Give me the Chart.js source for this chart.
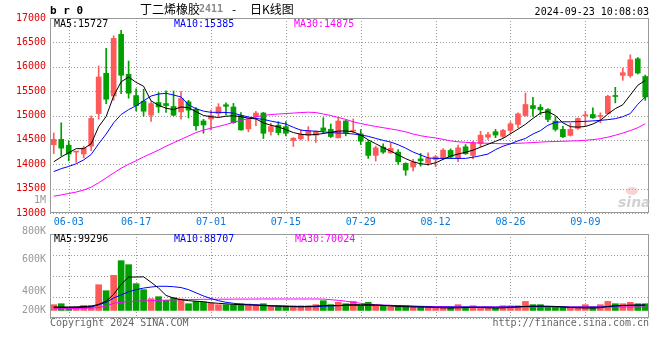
<!DOCTYPE html>
<html>
<head>
<meta charset="utf-8">
<script src="https://cdn.jsdelivr.net/npm/chart.js@4.4.1/dist/chart.umd.min.js"></script>
<style>
body { margin: 0; background: #fff; }
#wrap { position: relative; width: 660px; height: 360px; }
canvas { position: absolute; left: 0; }
#kChart { top: 0; }
#volChart { top: 224px; }
</style>
</head>
<body>
<div id="wrap">
  <canvas id="kChart" width="660" height="232"></canvas>
  <canvas id="volChart" width="660" height="136"></canvas>
</div>
<script>
// Dados (80 pregões)
const dates = ['05-30','05-31',
  '06-03','06-04','06-05','06-06','06-07','06-11','06-12','06-13','06-14','06-17','06-18','06-19','06-20','06-21','06-24','06-25','06-26','06-27','06-28',
  '07-01','07-02','07-03','07-04','07-05','07-08','07-09','07-10','07-11','07-12','07-15','07-16','07-17','07-18','07-19','07-22','07-23','07-24','07-25','07-26','07-29','07-30','07-31',
  '08-01','08-02','08-05','08-06','08-07','08-08','08-09','08-12','08-13','08-14','08-15','08-16','08-19','08-20','08-21','08-22','08-23','08-26','08-27','08-28','08-29','08-30',
  '09-02','09-03','09-04','09-05','09-06','09-09','09-10','09-11','09-12','09-13','09-18','09-19','09-20','09-23'];
const tickDates = ['06-03','06-17','07-01','07-15','07-29','08-12','08-26','09-09'];

const open = [14400,14510,14390,14250,14210,14370,15040,15866,15400,16664,15845,15409,15293,15006,15266,15245,15184,15075,15280,15130,
  14888,14929,15044,15221,15174,14997,14725,14976,15051,14670,14800,14772,14487,14521,14596,14596,14745,14718,14541,14888,
  14680,14623,14453,14181,14351,14235,14249,14017,13943,14110,14031,14099,14120,14283,14120,14358,14181,14426,14555,14667,
  14572,14694,14817,15000,15204,15170,15123,14885,14715,14592,14735,14994,15021,14980,15041,15400,15823,15816,16163,15800];
const high = [14640,14850,14480,14265,14370,14990,16015,16377,16636,16746,16118,15545,15538,15286,15470,15504,15504,15491,15310,15160,
  14922,15112,15242,15262,15248,15058,14942,15085,15065,14840,14874,14874,14548,14704,14772,14684,14956,14827,14956,14908,
  14930,14711,14487,14371,14419,14439,14303,14031,14099,14220,14235,14181,14324,14317,14392,14405,14473,14677,14657,14715,
  14715,14871,15055,15463,15374,15225,15143,14973,14776,14837,14953,15089,15157,15055,15415,15578,15973,16245,16190,15830];
const low = [14220,14170,14070,14040,14130,14280,14925,15245,15313,15450,15354,15095,14986,14877,15061,15061,14993,14925,14950,14700,
  14636,14704,14963,15010,14840,14700,14664,14793,14527,14596,14602,14582,14364,14500,14480,14446,14636,14548,14541,14582,
  14640,14405,14120,14065,14222,14222,13997,13773,13861,13960,13977,13950,14099,14120,14051,14201,14113,14358,14507,14545,
  14545,14626,14749,14987,14987,15021,14871,14681,14545,14579,14715,14783,14939,14851,15034,15259,15721,15782,15850,15310];
const close = [14510,14330,14210,14265,14330,14940,15790,15334,16582,15825,15457,15204,15088,15245,15177,15204,15006,15348,15110,14790,
  14806,14997,15174,15187,14854,14704,14922,15051,14636,14772,14650,14636,14534,14616,14684,14670,14691,14568,14888,14640,
  14700,14473,14181,14337,14249,14324,14051,13881,14045,14070,14120,14154,14290,14147,14337,14215,14439,14596,14609,14599,
  14694,14830,15034,15225,15143,15116,14919,14715,14565,14715,14939,15000,14953,15000,15395,15390,15878,16143,15871,15380];

const ma5 = [14050,14150,14236,14320,14320,14420,14770,14980,15400,15690,15790,15680,15600,15300,15210,15150,15120,15175,15160,15080,
  15000,14975,14960,14985,14995,14975,14945,14930,14850,14800,14765,14710,14650,14615,14602,14610,14630,14655,14680,14684,
  14665,14600,14500,14420,14340,14270,14190,14115,14050,14010,13995,14030,14100,14167,14210,14245,14290,14350,14410,14470,
  14530,14625,14720,14820,14940,15050,15080,15000,14850,14770,14762,14775,14825,14900,15030,15140,15220,15420,15620,15720];
const ma10 = [13850,13910,13955,14010,14090,14200,14420,14620,14850,15020,15120,15200,15300,15400,15440,15455,15420,15380,15220,15140,
  15090,15065,15065,15062,15050,15005,14970,14940,14920,14885,14855,14825,14758,14700,14686,14678,14665,14650,14640,14636,
  14620,14600,14573,14530,14490,14455,14400,14330,14250,14190,14130,14120,14120,14120,14120,14120,14145,14175,14210,14300,
  14370,14420,14480,14530,14620,14690,14800,14860,14870,14871,14875,14880,14890,14900,14915,14935,14975,15040,15230,15380];
const ma30 = [13345,13370,13400,13430,13470,13530,13620,13720,13820,13920,14000,14070,14150,14220,14290,14370,14440,14510,14580,14650,
  14700,14740,14775,14815,14860,14900,14940,14975,15000,15020,15030,15040,15050,15060,15068,15060,15030,15000,14960,14920,
  14870,14835,14805,14775,14750,14725,14698,14665,14620,14585,14560,14540,14510,14480,14460,14450,14440,14435,14430,14425,
  14420,14425,14430,14437,14445,14455,14462,14467,14472,14477,14482,14492,14505,14525,14555,14595,14640,14690,14750,14830];

// volume em milhares (escala do painel inferior)
const volume = [127,136,95,101,120,120,317,260,406,546,508,327,270,184,203,168,193,181,136,158,
  152,143,127,127,127,136,133,127,136,117,117,117,117,117,117,127,165,127,149,136,
  158,120,149,120,120,110,120,117,105,105,105,105,105,105,127,105,117,105,105,95,
  117,117,117,158,127,127,105,105,105,105,105,127,105,127,158,136,136,149,136,136];
const volMa5 = [105,105,105,107,109,112,130,160,225,320,390,390,392,340,285,215,190,175,165,160,
  155,145,140,135,130,127,125,122,118,115,113,110,108,107,110,113,118,120,117,125,
  127,127,127,125,120,115,110,108,105,105,103,100,97,95,97,100,100,100,97,95,
  97,100,105,110,112,113,112,110,105,100,97,95,95,98,110,117,120,122,123,123];
const volMa10 = [100,100,100,100,100,105,125,150,190,220,250,270,285,295,302,302,298,290,270,240,
  210,185,165,150,140,132,128,126,122,118,115,112,110,108,107,108,112,115,118,120,
  120,120,120,120,120,120,117,114,111,109,107,105,105,105,105,105,105,105,105,104,
  105,106,108,110,110,110,110,108,106,104,104,104,104,105,108,113,118,120,122,123];
const volMa30 = [88,89,90,91,92,94,100,115,140,150,155,160,163,165,167,170,172,174,176,177,
  178,178,179,179,180,180,180,181,181,181,181,181,181,181,181,181,180,175,168,160,
  150,140,132,127,123,120,118,116,114,112,110,109,108,107,106,105,105,105,105,105,
  105,105,105,105,105,105,105,105,105,105,105,105,105,105,105,105,105,105,105,105];
const volBase = 72;
const volTickLabels = ['800K', '600K', '400K', '200K'];

const RED = '#ff5a5a';
const GREEN = '#00a000';
const GRID = '#999';
const MONO = '"DejaVu Sans Mono", monospace';
const cores = close.map((c, i) => c >= open[i] ? RED : GREEN);

function linha(data, color) {
  return { type: 'line', data: data, borderColor: color, borderWidth: 1, pointRadius: 0, tension: 0, order: 0 };
}

// linhas de grade pontilhadas, nas marcas das escalas
const grade = {
  id: 'grade',
  beforeDatasetsDraw(chart) {
    const a = chart.chartArea;
    const c = chart.ctx;
    const xs = chart.scales.x;
    const ys = chart.scales.y;
    c.save();
    c.strokeStyle = GRID;
    c.lineWidth = 1;
    c.setLineDash([1, 2]);
    c.beginPath();
    ys.ticks.forEach(t => {
      const y = Math.round(ys.getPixelForValue(t.value)) + 0.5;
      c.moveTo(a.left, y);
      c.lineTo(a.right, y);
    });
    dates.forEach((d, i) => {
      if (!tickDates.includes(d)) return;
      const x = Math.round(xs.getPixelForValue(i)) + 0.5;
      c.moveTo(x, a.top);
      c.lineTo(x, a.bottom);
    });
    c.stroke();
    c.restore();
  }
};

// moldura cinza em volta da área do gráfico
const moldura = {
  id: 'moldura',
  afterDraw(chart) {
    const a = chart.chartArea;
    const c = chart.ctx;
    c.save();
    c.strokeStyle = '#999';
    c.lineWidth = 1;
    c.strokeRect(Math.round(a.left) + 0.5, Math.round(a.top) + 0.5, Math.round(a.right - a.left) - 1, Math.round(a.bottom - a.top) - 1);
    c.restore();
  }
};

const textosK = {
  id: 'textosK',
  afterDraw(chart) {
    const c = chart.ctx;
    c.save();
    c.textBaseline = 'middle';
    c.font = 'bold 11px ' + MONO;
    c.fillStyle = '#000';
    c.fillText('b r 0', 50, 11);
    c.font = '12px "Noto Sans CJK SC"';
    c.fillText('丁二烯橡胶', 140, 9);
    c.font = 'bold 10px ' + MONO;
    c.fillStyle = '#888';
    c.fillText('2411', 199, 9);
    c.fillStyle = '#000';
    c.font = '12px "Noto Sans CJK SC"';
    c.fillText('-', 232, 9);
    c.fillText('日K线图', 250, 9);
    c.font = '10px ' + MONO;
    c.textAlign = 'right';
    c.fillText('2024-09-23 10:08:03', 649, 12);
    c.fillStyle = '#999';
    c.fillText('1M', 46, 200);
    c.textAlign = 'left';
    c.fillStyle = '#000';
    c.fillText('MA5:15727', 54, 24);
    c.fillStyle = '#0000ff';
    c.fillText('MA10:15385', 174, 24);
    c.fillStyle = '#ff00ff';
    c.fillText('MA30:14875', 294, 24);
    // marca d'água
    c.font = 'italic bold 14px "DejaVu Sans"';
    c.fillStyle = 'rgba(190,190,190,0.7)';
    c.fillText('sina', 618, 203);
    c.fillStyle = 'rgba(240,170,170,0.5)';
    c.beginPath();
    c.ellipse(632, 191, 6, 4, 0, 0, Math.PI * 2);
    c.fill();
    c.restore();
  }
};

const textosVol = {
  id: 'textosVol',
  afterDraw(chart) {
    const c = chart.ctx;
    const labelY = [7, 35.5, 67, 86];
    c.save();
    c.textBaseline = 'middle';
    c.font = '10px ' + MONO;
    c.textAlign = 'right';
    c.fillStyle = '#999';
    volTickLabels.forEach((t, i) => c.fillText(t, 46, labelY[i]));
    c.fillStyle = '#666';
    c.fillText('http://finance.sina.com.cn', 649, 99);
    c.textAlign = 'left';
    c.fillText('Copyright 2024 SINA.COM', 50, 99);
    c.fillStyle = '#000';
    c.fillText('MA5:99296', 54, 15);
    c.fillStyle = '#0000ff';
    c.fillText('MA10:88707', 174, 15);
    c.fillStyle = '#ff00ff';
    c.fillText('MA30:70024', 295, 15);
    c.restore();
  }
};

// Gráfico de velas (K线)
const ctx = document.getElementById('kChart').getContext('2d');
const kChart = new Chart(ctx, {
  type: 'bar',
  data: {
    labels: dates,
    datasets: [
      linha(ma5, '#000000'),
      linha(ma10, '#0000ff'),
      linha(ma30, '#ff00ff'),
      {
        data: open.map((o, i) => [o, close[i]]),
        backgroundColor: cores,
        borderWidth: 0,
        barThickness: 5,
        minBarLength: 1,
        grouped: false,
        order: 1
      },
      {
        data: low.map((l, i) => [l, high[i]]),
        backgroundColor: cores,
        borderWidth: 0,
        barThickness: 1,
        grouped: false,
        order: 2
      }
    ]
  },
  options: {
    responsive: false,
    animation: false,
    layout: { padding: { top: 18, right: 11, left: 0, bottom: 0 } },
    plugins: { legend: { display: false }, tooltip: { enabled: false } },
    scales: {
      x: {
        offset: true,
        grid: { display: false, drawTicks: false },
        border: { display: false },
        ticks: {
          autoSkip: false,
          maxRotation: 0,
          padding: 3,
          color: '#0a78d6',
          font: { family: MONO, size: 10 },
          callback: (v, i) => tickDates.includes(dates[i]) ? dates[i] : ''
        },
        afterFit: s => { s.height = 19; }
      },
      y: {
        min: 13000,
        max: 17000,
        grid: { display: false, drawTicks: false },
        border: { display: false },
        ticks: {
          stepSize: 500,
          padding: 4,
          color: '#e00000',
          font: { family: MONO, size: 10 },
          callback: v => String(v)
        },
        afterFit: s => { s.width = 50; }
      }
    }
  },
  plugins: [grade, moldura, textosK]
});

// Gráfico de volume
const ctxVol = document.getElementById('volChart').getContext('2d');
const volChart = new Chart(ctxVol, {
  type: 'bar',
  data: {
    labels: dates,
    datasets: [
      linha(volMa5, '#000000'),
      linha(volMa10, '#0000ff'),
      linha(volMa30, '#ff00ff'),
      {
        data: volume,
        base: volBase,
        backgroundColor: cores,
        borderWidth: 0,
        barThickness: 6,
        order: 1
      }
    ]
  },
  options: {
    responsive: false,
    animation: false,
    layout: { padding: { top: 10, right: 11, left: 0, bottom: 42 } },
    plugins: { legend: { display: false }, tooltip: { enabled: false } },
    scales: {
      x: {
        offset: true,
        grid: { display: false, drawTicks: false },
        border: { display: false },
        ticks: { display: false },
        afterFit: s => { s.height = 0; }
      },
      y: {
        min: 0,
        max: 800,
        grid: { display: false, drawTicks: false },
        border: { display: false },
        ticks: { display: false, stepSize: 200 },
        afterFit: s => { s.width = 50; }
      }
    }
  },
  plugins: [grade, moldura, textosVol]
});
</script>
</body>
</html>
